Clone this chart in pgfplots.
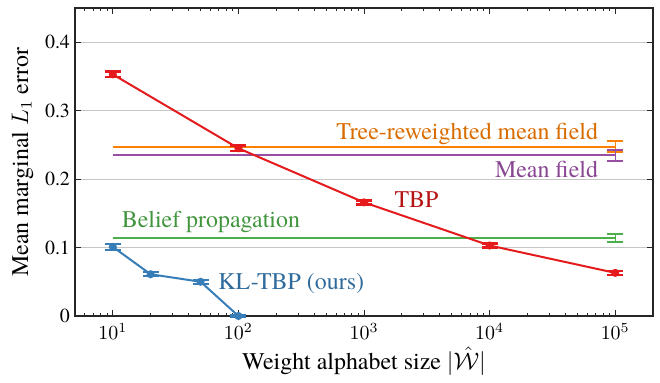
\documentclass[border=0pt]{standalone}
\usepackage{fontspec}
\IfFontExistsTF{texgyretermes-regular.otf}{\setmainfont{texgyretermes-regular.otf}[BoldFont=texgyretermes-bold.otf,ItalicFont=texgyretermes-italic.otf]}{\setmainfont{Liberation Serif}}
\usepackage{pgfplots}
\pgfplotsset{compat=1.18}
\definecolor{cred}{HTML}{E41A1C}
\definecolor{cblue}{HTML}{377EB8}
\definecolor{cgreen}{HTML}{4DAF4A}
\definecolor{cpurple}{HTML}{984EA3}
\definecolor{corange}{HTML}{FF7F00}
\begin{document}
\begin{tikzpicture}
\begin{axis}[
  name=main,
  scale only axis,
  width=289bp, height=154bp,
  xmode=log, log basis x=10,
  xmin=5, xmax=2e5,
  ymin=0, ymax=0.45,
  ytick={0,0.1,0.2,0.3,0.4},
  yticklabels={0,0.1,0.2,0.3,0.4},
  tick align=inside,
  tick pos=both,
  ymajorgrids,
  grid style={gray!45, line width=0.5pt},
  axis line style={line width=0.7pt, black!85},
  major tick length=3pt, minor tick length=1.7pt,
  tick style={black!85, line width=0.5pt},
  ticklabel style={font=\fontsize{10}{11}\selectfont},
  yticklabel style={xshift=1bp},
  label style={font=\fontsize{12}{13}\selectfont},
  xlabel={Weight alphabet size $|\hat{\mathcal{W}}|$},
  ylabel={Mean marginal $L_1$ error},
  xlabel style={yshift=3pt},
  ylabel style={yshift=-1pt},
  clip=false,
]
% Tree-reweighted mean field
\addplot[corange, line width=1pt, mark=none] coordinates {(10,0.247) (1e5,0.247)};
\addplot[corange, line width=1pt, mark=none, error bars/.cd, y dir=both, y explicit, error mark options={rotate=90, mark size=4bp, line width=1pt}] coordinates {(1e5,0.247) +- (0,0.008)};
% Mean field
\addplot[cpurple, line width=1pt, mark=none] coordinates {(10,0.2345) (1e5,0.2345)};
\addplot[cpurple, line width=1pt, mark=none, error bars/.cd, y dir=both, y explicit, error mark options={rotate=90, mark size=4bp, line width=1pt}] coordinates {(1e5,0.2345) +- (0,0.0075)};
% Belief propagation
\addplot[cgreen, line width=1pt, mark=none] coordinates {(10,0.114) (1e5,0.114)};
\addplot[cgreen, line width=1pt, mark=none, error bars/.cd, y dir=both, y explicit, error mark options={rotate=90, mark size=4bp, line width=1pt}] coordinates {(1e5,0.114) +- (0,0.0055)};
% TBP
\addplot[cred, line width=1pt, mark=*, mark size=1.5bp, error bars/.cd, y dir=both, y explicit, error bar style={line width=1.4pt}, error mark options={rotate=90, mark size=4bp, line width=1.2pt}] coordinates {
 (10,0.353) +- (0,0.004)
 (100,0.245) +- (0,0.004)
 (1000,0.166) +- (0,0.003)
 (10000,0.103) +- (0,0.003)
 (100000,0.063) +- (0,0.003)
};
% KL-TBP
\addplot[cblue, line width=1pt, mark=*, mark size=1.5bp, error bars/.cd, y dir=both, y explicit, error bar style={line width=1.2pt}, error mark options={rotate=90, mark size=4bp, line width=1pt}] coordinates {
 (10,0.101) +- (0,0.004)
 (20,0.061) +- (0,0.003)
 (50,0.050) +- (0,0.003)
 (100,0.0) +- (0,0.002)
};
\node[anchor=base east, text=corange!85!black, font=\fontsize{12}{13}\selectfont] at (axis cs:8.3e4,0.258) {Tree-reweighted mean field};
\node[anchor=base east, text=cpurple!90!black, font=\fontsize{12}{13}\selectfont] at (axis cs:8.3e4,0.202) {Mean field};
\node[anchor=base, text=cred!80!black, font=\fontsize{12}{13}\selectfont] at (axis cs:2620,0.158) {TBP};
\node[anchor=base west, text=cgreen!85!black, font=\fontsize{12}{13}\selectfont, xshift=1bp] at (axis cs:10,0.129) {Belief propagation};
\node[anchor=base west, text=cblue!85!black, font=\fontsize{12}{13}\selectfont] at (axis cs:61,0.039) {KL-TBP (ours)};
\end{axis}
\path ([xshift=-37.5bp]main.south west) ([xshift=3.5bp,yshift=4bp]main.north east);
\end{tikzpicture}
\end{document}
